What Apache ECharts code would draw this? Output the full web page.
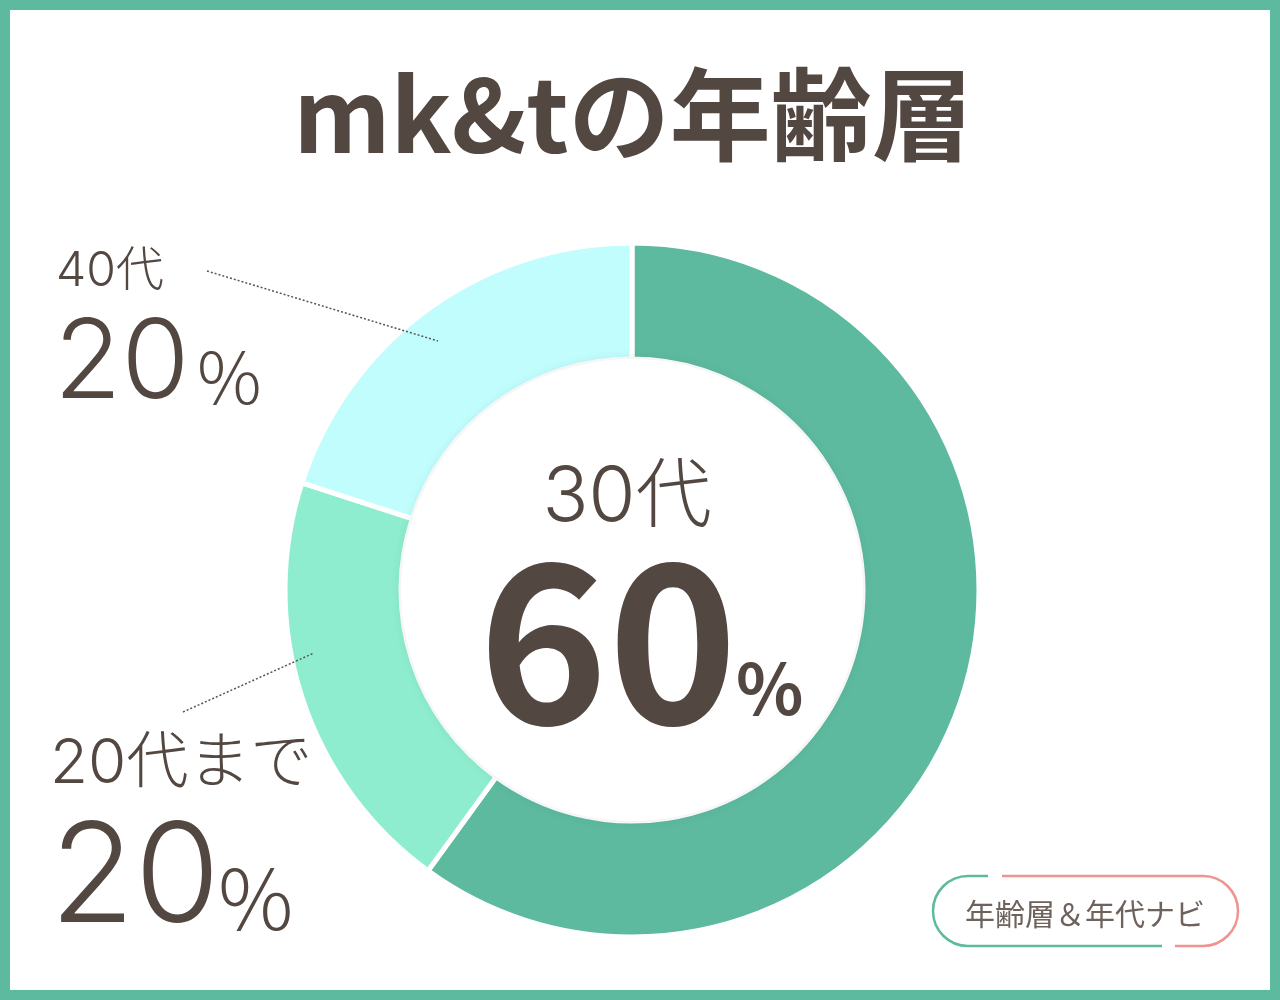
<!DOCTYPE html>
<html>
<head>
<meta charset="utf-8">
<script src="https://cdn.jsdelivr.net/npm/echarts@6/dist/echarts.min.js"></script>
<style>
html,body{margin:0;padding:0;background:#fff;}
#chart{width:1280px;height:1000px;}
</style>
</head>
<body>
<div id="chart"></div>
<script>
// ---- data ----
const titleText = 'mk&tの年齢層';
const categories = ['30代', '20代まで', '40代'];
const values = [60, 20, 20];
const sliceColors = ['#5dba9f', '#8eedcf', '#c1fdfd'];
const badgeText = '年齢層＆年代ナビ';

const TEXT = '#534741';
const CJK = '"Noto Sans CJK JP", "Noto Sans", sans-serif';
const LIGHT = 'Inter, "Noto Sans CJK JP", sans-serif';
const pct = v => String(v);

const chart = echarts.init(document.getElementById('chart'), null, {renderer: 'canvas'});

function txt(x, y, text, size, weight, align, color, fam) {
  return {
    type: 'text', z: 10,
    style: {
      x: x, y: y, text: text,
      font: weight + ' ' + size + 'px ' + (fam || CJK),
      fill: color || TEXT, align: align || 'left', verticalAlign: 'middle'
    }
  };
}

const GREEN = '#5dba9f', PINK = '#ee9592';
const graphics = [
  // frame
  {type: 'rect', z: 0, shape: {x: 5, y: 5, width: 1270, height: 990},
   style: {fill: 'none', stroke: GREEN, lineWidth: 10}},
  // soft inner shadow of the donut hole
  {type: 'circle', z: 3, shape: {cx: 632, cy: 590, r: 231},
   style: {fill: '#ffffff', shadowBlur: 12, shadowColor: 'rgba(0,0,0,0.09)'}},
  // title
  txt(633, 115, titleText, 101, 'bold', 'center'),
  // center label (30代)
  txt(627, 498, categories[0], 76, 300, 'center', null, LIGHT),
  txt(608, 640, pct(values[0]), 220, 'bold', 'center'),
  txt(736, 688, '%', 70, 'bold', 'left'),
  // 40代 label
  txt(56, 272, categories[2], 48, 300, 'left', null, LIGHT),
  txt(54, 365, pct(values[2]), 110, 300, 'left', null, LIGHT),
  txt(197, 377, '%', 72, 300, 'left'),
  // 20代まで label
  txt(50, 764, categories[1], 62, 300, 'left', null, LIGHT),
  txt(50, 881, pct(values[1]), 138, 300, 'left', null, LIGHT),
  txt(218, 898, '%', 84, 300, 'left'),
  // leader lines
  {type: 'line', z: 5, shape: {x1: 207, y1: 271, x2: 438, y2: 341},
   style: {stroke: '#555', lineWidth: 1.5, lineDash: [2, 2]}},
  {type: 'line', z: 5, shape: {x1: 183, y1: 712, x2: 314, y2: 653},
   style: {stroke: '#555', lineWidth: 1.5, lineDash: [2, 2]}},
  // badge (green left part)
  {type: 'line', z: 5, shape: {x1: 988, y1: 876, x2: 968, y2: 876}, style: {stroke: GREEN, lineWidth: 2.5}},
  {type: 'arc', z: 5, shape: {cx: 968, cy: 911, r: 35, startAngle: Math.PI / 2, endAngle: Math.PI * 1.5, clockwise: true},
   style: {fill: 'none', stroke: GREEN, lineWidth: 2.5}},
  {type: 'line', z: 5, shape: {x1: 968, y1: 946, x2: 1162, y2: 946}, style: {stroke: GREEN, lineWidth: 2.5}},
  // badge (pink right part)
  {type: 'line', z: 5, shape: {x1: 1002, y1: 876, x2: 1203, y2: 876}, style: {stroke: PINK, lineWidth: 2.5}},
  {type: 'arc', z: 5, shape: {cx: 1203, cy: 911, r: 35, startAngle: -Math.PI / 2, endAngle: Math.PI / 2, clockwise: true},
   style: {fill: 'none', stroke: PINK, lineWidth: 2.5}},
  {type: 'line', z: 5, shape: {x1: 1203, y1: 946, x2: 1175, y2: 946}, style: {stroke: PINK, lineWidth: 2.5}},
  txt(1085, 914, badgeText, 30, 'normal', 'center', '#6e625d')
];

chart.setOption({
  backgroundColor: '#ffffff',
  animation: false,
  series: [{
    type: 'pie',
    z: 2,
    center: [632, 590],
    radius: [231, 347],
    startAngle: 90,
    clockwise: true,
    silent: true,
    label: {show: false},
    labelLine: {show: false},
    itemStyle: {borderColor: '#ffffff', borderWidth: 5},
    data: categories.map((c, i) => ({name: c, value: values[i], itemStyle: {color: sliceColors[i]}}))
  }],
  graphic: graphics
});
</script>
</body>
</html>
